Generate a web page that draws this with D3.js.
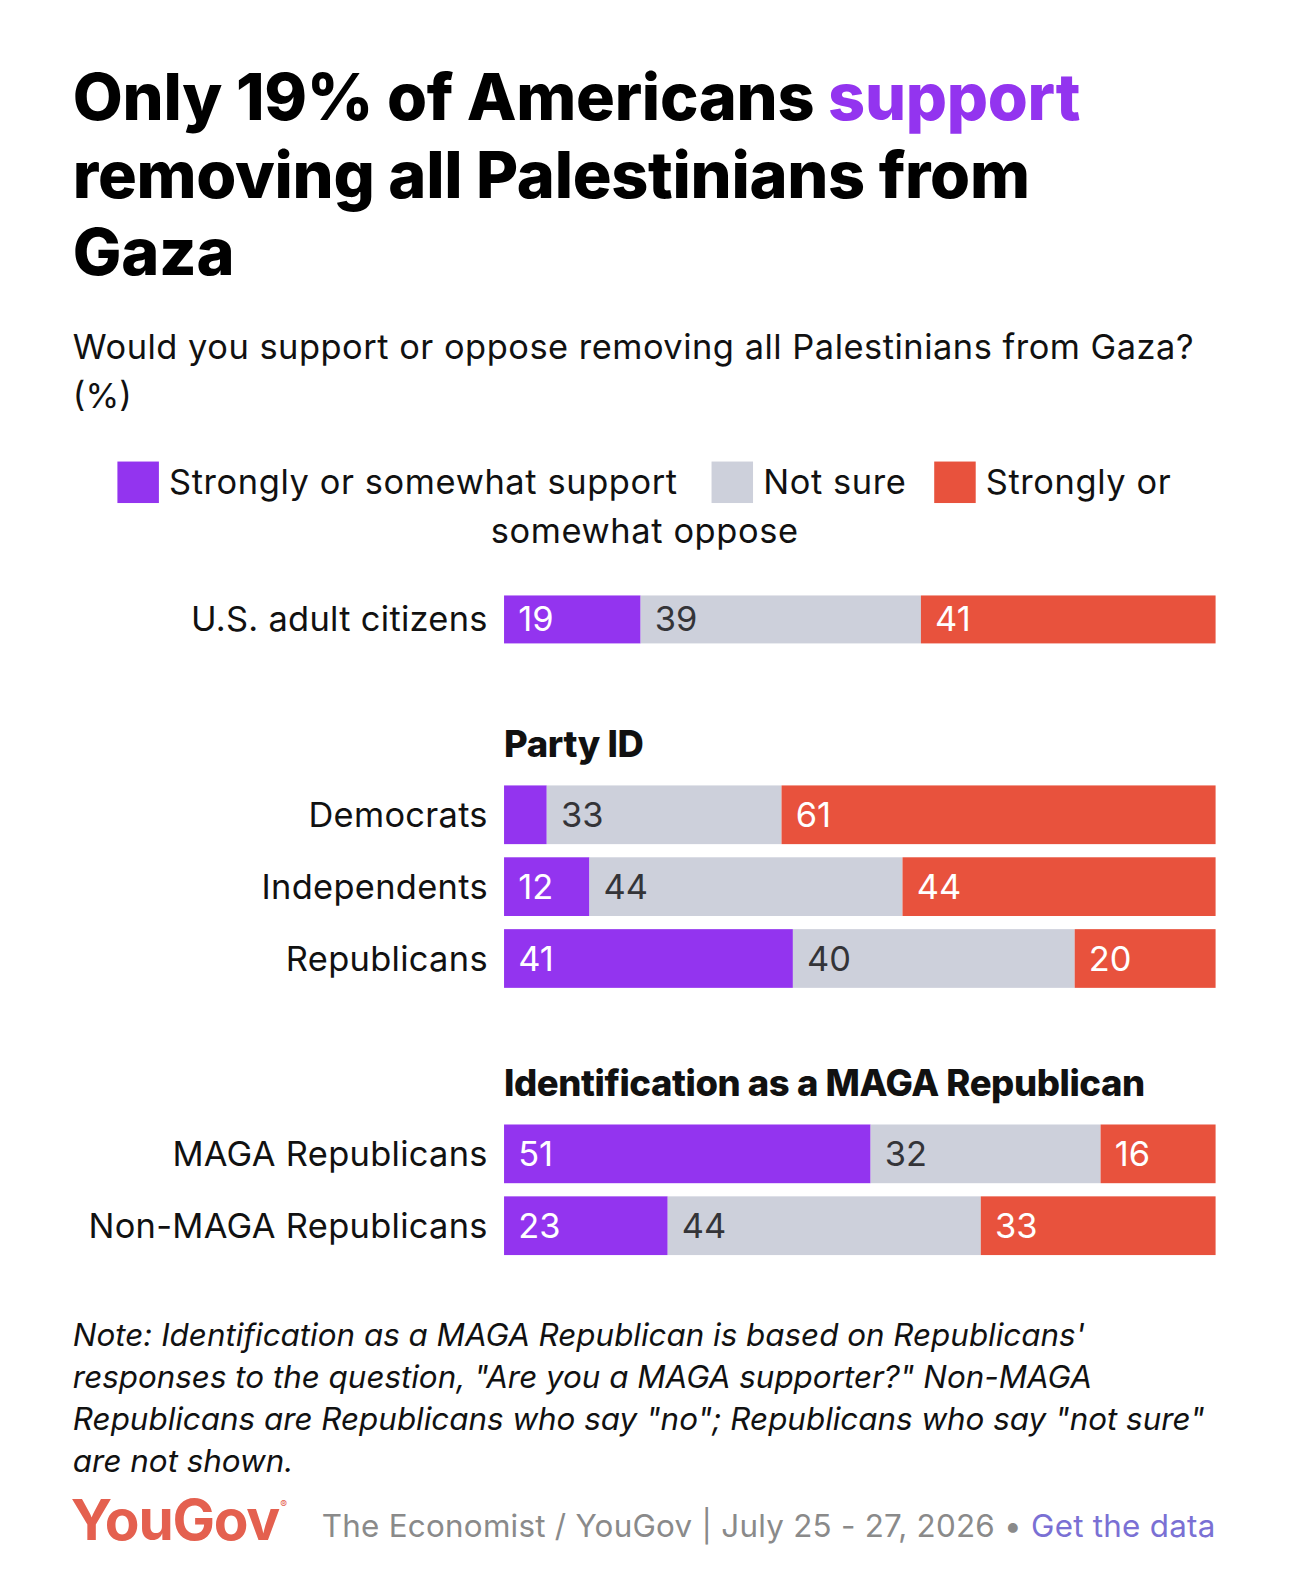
<!DOCTYPE html>
<html>
<head>
<meta charset="utf-8">
<script src="https://cdn.jsdelivr.net/npm/d3@7"></script>
<style>
  html, body { margin: 0; padding: 0; background: #fff; overflow: hidden; }
  svg { display: block; }
  svg text { font-family: Inter, "Noto Sans", sans-serif; }
</style>
</head>
<body>
<div id="chart"></div>
<script>
// data
const seriesNames = ["Strongly or somewhat support", "Not sure", "Strongly or somewhat oppose"];
const groupTitles = ["", "Party ID", "Identification as a MAGA Republican"];
const groupRows = [
  ["U.S. adult citizens"],
  ["Democrats", "Independents", "Republicans"],
  ["MAGA Republicans", "Non-MAGA Republicans"]
];
const support = [[19], [6, 12, 41], [51, 23]];
const notSure = [[39], [33, 44, 40], [32, 44]];
const oppose  = [[41], [61, 44, 20], [16, 33]];

const colors = ["#9334ef", "#cdd0db", "#e8523d"];
const labelColors = ["#ffffff", "#343438", "#ffffff"];

const W = 1290, H = 1587;
// layout is drawn on a slightly smaller frame and scaled up to the page
const k0 = 0.988;
const barLeft = 498, barRight = 1201;

const svg = d3.select("#chart").append("svg")
    .attr("width", W)
    .attr("height", H)
    .attr("viewBox", `0 0 ${W * k0} ${H * k0}`);

// Title
const title = svg.append("g").attr("font-weight", 800).attr("font-size", 64).attr("letter-spacing", -0.3);
const t1 = title.append("text").attr("x", 72).attr("y", 119);
t1.append("tspan").text("Only 19% of Americans ");
t1.append("tspan").attr("fill", "#9334ef").text("support");
title.append("text").attr("x", 72).attr("y", 196).text("removing all Palestinians from");
title.append("text").attr("x", 72).attr("y", 272).text("Gaza");

// Subtitle
svg.append("text").attr("x", 72).attr("y", 355).attr("font-size", 34).attr("letter-spacing", 0.5).attr("fill", "#111")
    .text("Would you support or oppose removing all Palestinians from Gaza?");
svg.append("text").attr("x", 72).attr("y", 403).attr("font-size", 34).attr("fill", "#111")
    .text("(%)");

// Legend
const legendX = [116, 703, 923];
const legendLabels = ["Strongly or somewhat support", "Not sure", "Strongly or"];
const legend = svg.append("g").attr("font-size", 34).attr("letter-spacing", 0.6).attr("fill", "#111");
legendX.forEach((lx, i) => {
  legend.append("rect").attr("x", lx).attr("y", 456).attr("width", 41).attr("height", 41).attr("fill", colors[i]);
  legend.append("text").attr("x", lx + 51).attr("y", 488).text(legendLabels[i]);
});
legend.append("text").attr("x", 637).attr("y", 536).attr("text-anchor", "middle").text("somewhat oppose");

// Bars
const x = d3.scaleLinear().domain([0, 1]).range([barLeft, barRight]);
const stack = d3.stack().keys([0, 1, 2]).offset(d3.stackOffsetExpand);

let groupTop = 583;
groupRows.forEach((rows, g) => {
  if (groupTitles[g]) {
    svg.append("text").attr("x", barLeft).attr("y", groupTop - 28)
        .attr("font-size", 36).attr("font-weight", 800).attr("letter-spacing", -0.4)
        .attr("fill", "#111").text(groupTitles[g]);
  }
  const groupBottom = groupTop + rows.length * 71 - 13;
  const y = d3.scaleBand().domain(rows).range([groupTop, groupBottom]).paddingInner(13 / 71).paddingOuter(0);
  const data = rows.map((r, i) => ({ row: r, 0: support[g][i], 1: notSure[g][i], 2: oppose[g][i] }));
  const layers = stack(data);
  const gG = svg.append("g");
  layers.forEach((layer, k) => {
    gG.append("g").selectAll("rect").data(layer).join("rect")
        .attr("x", d => x(d[0]))
        .attr("width", d => x(d[1]) - x(d[0]))
        .attr("y", d => y(d.data.row))
        .attr("height", y.bandwidth())
        .attr("fill", colors[k]);
    gG.append("g").selectAll("text").data(layer.filter(d => d.data[k] >= 10)).join("text")
        .attr("x", d => x(d[0]) + 14)
        .attr("y", d => y(d.data.row) + y.bandwidth() / 2)
        .attr("dy", "0.35em")
        .attr("font-size", 34)
        .attr("fill", labelColors[k])
        .text(d => d.data[k]);
  });
  gG.append("g").selectAll("text").data(rows).join("text")
      .attr("x", 482)
      .attr("y", r => y(r) + y.bandwidth() / 2)
      .attr("dy", "0.35em")
      .attr("text-anchor", "end")
      .attr("font-size", 34)
      .attr("letter-spacing", 0.3)
      .attr("fill", "#111")
      .text(r => r);
  groupTop = groupBottom + 135;
});

// Note
const note = [
  "Note: Identification as a MAGA Republican is based on Republicans'",
  "responses to the question, \"Are you a MAGA supporter?\" Non-MAGA",
  "Republicans are Republicans who say \"no\"; Republicans who say \"not sure\"",
  "are not shown."
];
svg.append("g").selectAll("text").data(note).join("text")
    .attr("x", 72)
    .attr("y", (d, i) => 1330 + i * 41.5)
    .attr("font-size", 31)
    .attr("font-style", "italic")
    .attr("fill", "#111")
    .text(d => d);

// Footer
svg.append("text").attr("x", 70).attr("y", 1522)
    .attr("font-size", 56).attr("font-weight", 700).attr("letter-spacing", -1.2)
    .attr("fill", "#e4604f").text("YouGov");
svg.append("text").attr("x", 277).attr("y", 1490).attr("font-size", 10).attr("fill", "#e4604f").text("®");
const foot = svg.append("text").attr("x", 1201).attr("y", 1519).attr("text-anchor", "end")
    .attr("font-size", 31).attr("letter-spacing", 0.25);
foot.append("tspan").attr("fill", "#8a8a8a").text("The Economist / YouGov | July 25 - 27, 2026 • ");
foot.append("tspan").attr("fill", "#7a70d4").text("Get the data");
</script>
</body>
</html>
